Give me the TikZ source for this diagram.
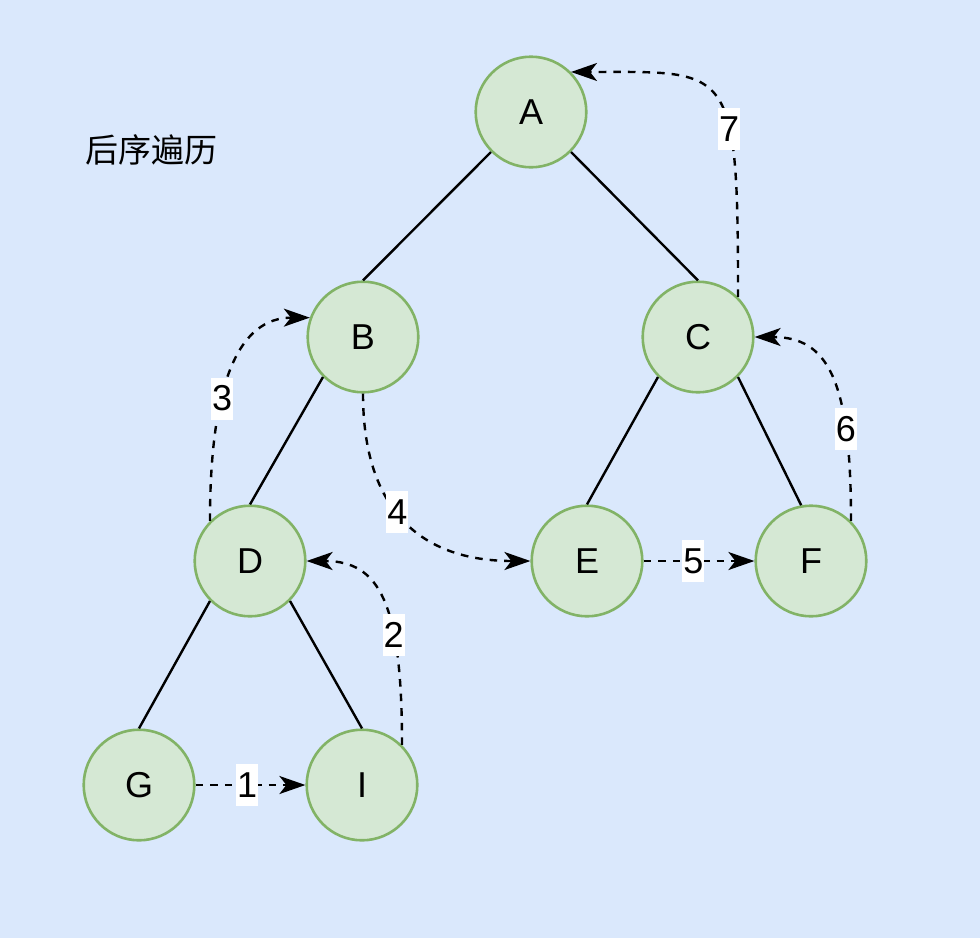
\documentclass[tikz,border=0pt]{standalone}
\usepackage{fontspec}
\setmainfont{Liberation Sans}
\newfontfamily\cjk{Noto Sans CJK SC}
\usetikzlibrary{arrows.meta}
\definecolor{bgblue}{HTML}{DAE8FC}
\definecolor{nodefill}{HTML}{D5E8D4}
\definecolor{nodeline}{HTML}{82B366}

\begin{document}
\begin{tikzpicture}[x=0.5pt, y=0.5pt,
    vertex/.style={circle, minimum size=55.3pt, inner sep=0pt, fill=nodefill, draw=nodeline, line width=1.3pt, font=\fontsize{18}{20}\selectfont},
    edge/.style={line width=1.2pt},
    walk/.style={line width=1.2pt, dash pattern=on 3.8pt off 3.5pt, -{Stealth[length=13pt, width=9pt, inset=3.5pt]}},
    order/.style={fill=white, inner xsep=0.5pt, inner ysep=0pt, minimum height=21pt, font=\fontsize{18}{20}\selectfont}]
    \fill[bgblue] (0,0) rectangle (980,-938);
    \useasboundingbox (0,0) rectangle (980,-938);
    \node [font=\cjk\fontsize{16.5}{20}\selectfont] (title) at (151,-150) {后序遍历};

    \node [vertex] (a) at (531,-112) {A};
    \node [vertex] (b) at (363,-337) {B};
    \node [vertex] (c) at (698,-337) {C};
    \node [vertex] (d) at (250,-561) {D};
    \node [vertex] (e) at (587,-561) {E};
    \node [vertex] (f) at (811,-561) {F};
    \node [vertex] (g) at (139,-785) {G};
    \node [vertex] (i) at (362,-785) {I};

    \draw [edge] (a.225) -- (b.north);
    \draw [edge] (a.-45) -- (c.north);
    \draw [edge] (b.225) -- (d.north);
    \draw [edge] (c.225) -- (e.north);
    \draw [edge] (c.-45) -- (f.100);
    \draw [edge] (d.225) -- (g.north);
    \draw [edge] (d.-45) -- (i.north);

    \draw [walk] (g.east) -- node[order, pos=0.47] (one) {1} (i.west);
    \draw [walk] (i.45) .. controls +(0,142) and +(73,0) .. node[order, pos=0.33] (two) {2} (d.east);
    \draw [walk] (d.135) .. controls +(0,141) and +(-70,0) .. node[order, pos=0.36] (three) {3} (b.160);
    \draw [walk] (b.south) .. controls +(0,-116) and +(-110,0) .. node[order, pos=0.45] (four) {4} (e.west);
    \draw [walk] (e.east) -- node[order, pos=0.45] (five) {5} (f.west);
    \draw [walk] (f.45) .. controls +(0,142) and +(73,0) .. node[order, pos=0.26] (six) {6} (c.east);
    \draw [walk] (c.45) .. controls +(0,235) and +(160,0) .. node[order, pos=0.35] (seven) {7} (a.45);
\end{tikzpicture}
\end{document}
